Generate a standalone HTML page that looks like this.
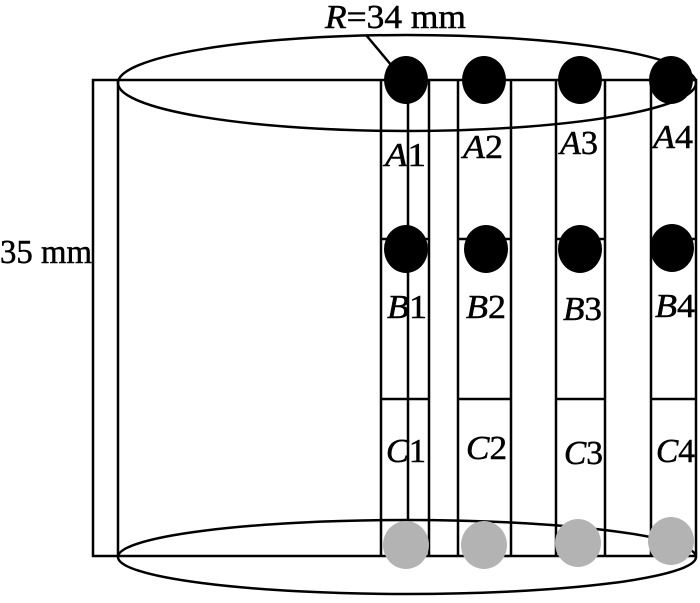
<!DOCTYPE html>
<html><head><style>body{margin:0;background:#fff}svg{display:block}</style></head><body>
<svg width="700" height="603" viewBox="0 0 700 603" xmlns="http://www.w3.org/2000/svg" font-family="Liberation Serif, serif" font-size="34">
<g stroke="#000" stroke-width="2.5" fill="none">
<rect x="93" y="80" width="603" height="476"/>
<line x1="118" y1="80" x2="118" y2="556"/>
<line x1="381" y1="80" x2="381" y2="556"/>
<line x1="408" y1="80" x2="408" y2="520"/>
<line x1="429" y1="80" x2="429" y2="556"/>
<line x1="458" y1="80" x2="458" y2="556"/>
<line x1="511" y1="80" x2="511" y2="556"/>
<line x1="556" y1="80" x2="556" y2="556"/>
<line x1="605" y1="80" x2="605" y2="556"/>
<line x1="651" y1="80" x2="651" y2="556"/>
<line x1="381" y1="239" x2="429" y2="239"/>
<line x1="458" y1="239" x2="511" y2="239"/>
<line x1="556" y1="239" x2="605" y2="239"/>
<line x1="651" y1="239" x2="696" y2="239"/>
<line x1="381" y1="399" x2="429" y2="399"/>
<line x1="458" y1="399" x2="511" y2="399"/>
<line x1="556" y1="399" x2="605" y2="399"/>
<line x1="651" y1="399" x2="696" y2="399"/>
<ellipse cx="407" cy="83" rx="289" ry="48"/>
<ellipse cx="407" cy="557" rx="289" ry="37"/>
<line x1="366" y1="35" x2="392" y2="66"/>
</g>
<g fill="#000">
<ellipse cx="406" cy="80" rx="22" ry="24"/>
<ellipse cx="484" cy="80" rx="22" ry="24"/>
<ellipse cx="580" cy="80" rx="22" ry="24"/>
<ellipse cx="671" cy="80" rx="22" ry="24"/>
<ellipse cx="406" cy="249" rx="22" ry="24"/>
<ellipse cx="486" cy="249" rx="22" ry="24"/>
<ellipse cx="580" cy="249" rx="22" ry="24"/>
<ellipse cx="672" cy="248" rx="22" ry="24"/>
</g>
<g fill="#b3b3b3">
<ellipse cx="406" cy="545" rx="23" ry="24"/>
<ellipse cx="484" cy="545" rx="23" ry="24"/>
<ellipse cx="578" cy="543" rx="23" ry="24"/>
<ellipse cx="671" cy="541" rx="23" ry="24"/>
</g>
<g fill="#000" stroke="#000" stroke-width="0.5">
<text x="325" y="28" textLength="141" lengthAdjust="spacingAndGlyphs"><tspan font-style="italic">R</tspan>=34 mm</text>
<text x="0" y="263" textLength="92" lengthAdjust="spacingAndGlyphs">35 mm</text>
<text x="385" y="166" textLength="41" lengthAdjust="spacingAndGlyphs"><tspan font-style="italic">A</tspan>1</text>
<text x="463" y="158" textLength="40" lengthAdjust="spacingAndGlyphs"><tspan font-style="italic">A</tspan>2</text>
<text x="560" y="154" textLength="38" lengthAdjust="spacingAndGlyphs"><tspan font-style="italic">A</tspan>3</text>
<text x="653" y="148" textLength="40" lengthAdjust="spacingAndGlyphs"><tspan font-style="italic">A</tspan>4</text>
<text x="387" y="318" textLength="40" lengthAdjust="spacingAndGlyphs"><tspan font-style="italic">B</tspan>1</text>
<text x="466" y="318" textLength="40" lengthAdjust="spacingAndGlyphs"><tspan font-style="italic">B</tspan>2</text>
<text x="563" y="320" textLength="39" lengthAdjust="spacingAndGlyphs"><tspan font-style="italic">B</tspan>3</text>
<text x="655" y="317" textLength="40" lengthAdjust="spacingAndGlyphs"><tspan font-style="italic">B</tspan>4</text>
<text x="386" y="462" textLength="40" lengthAdjust="spacingAndGlyphs"><tspan font-style="italic">C</tspan>1</text>
<text x="466" y="459" textLength="41" lengthAdjust="spacingAndGlyphs"><tspan font-style="italic">C</tspan>2</text>
<text x="564" y="464" textLength="39" lengthAdjust="spacingAndGlyphs"><tspan font-style="italic">C</tspan>3</text>
<text x="656" y="462" textLength="39" lengthAdjust="spacingAndGlyphs"><tspan font-style="italic">C</tspan>4</text>
</g>
</svg>
</body></html>
